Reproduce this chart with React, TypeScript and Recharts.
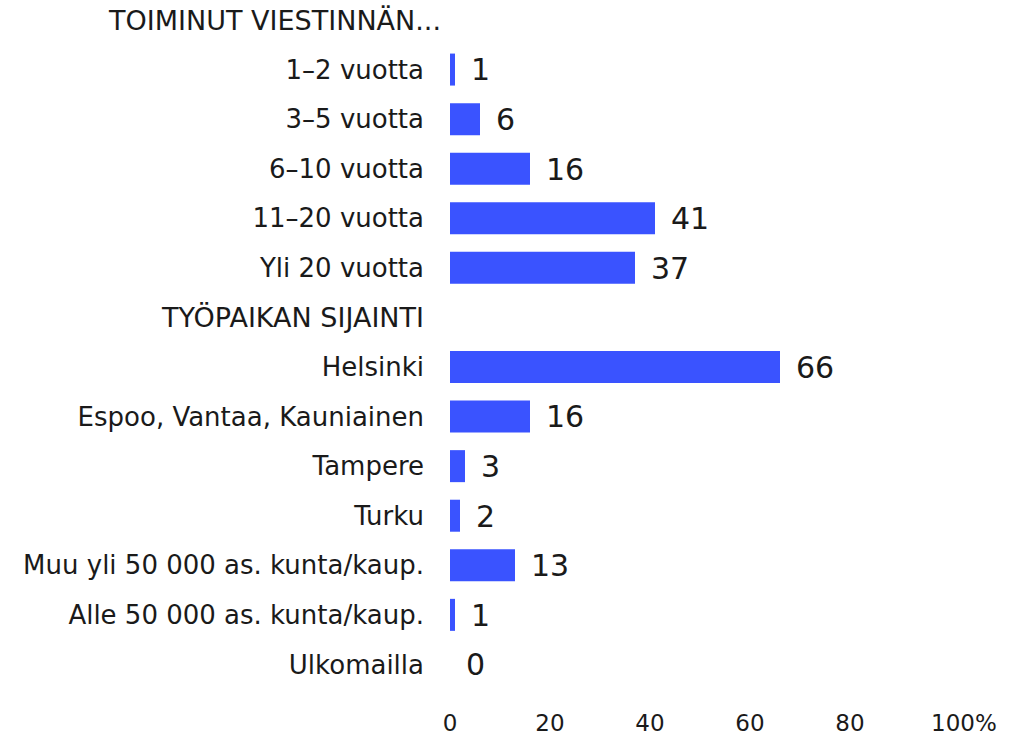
import React from "react";
import { BarChart, Bar, XAxis, YAxis, LabelList } from "recharts";

const categories = [
  "TOIMINUT VIESTINNÄN...",
  "1–2 vuotta",
  "3–5 vuotta",
  "6–10 vuotta",
  "11–20 vuotta",
  "Yli 20 vuotta",
  "TYÖPAIKAN SIJAINTI",
  "Helsinki",
  "Espoo, Vantaa, Kauniainen",
  "Tampere",
  "Turku",
  "Muu yli 50 000 as. kunta/kaup.",
  "Alle 50 000 as. kunta/kaup.",
  "Ulkomailla",
];
const values: (number | null)[] = [null, 1, 6, 16, 41, 37, null, 66, 16, 3, 2, 13, 1, 0];
const headers = ["TOIMINUT VIESTINNÄN...", "TYÖPAIKAN SIJAINTI"];
const xTicks = [0, 20, 40, 60, 80, 100];

const data = categories.map((c, i) => ({ name: c, value: values[i] }));

const FONT = "'DejaVu Sans', sans-serif";
const TEXT = "#1a1a1a";
const BAR = "#3A53FF";

const YTick = (props: any) => {
  const { x, y, payload } = props;
  const label: string = payload.value;
  const isHeader = headers.includes(label);
  const dx = label.endsWith("...") ? 17 : 0;
  return (
    <text
      x={x + dx}
      y={y}
      dy="0.36em"
      textAnchor="end"
      fontFamily={FONT}
      fontSize={isHeader ? 27 : 26}
      fill={TEXT}
    >
      {label}
    </text>
  );
};

const XTick = (props: any) => {
  const { x, y, payload } = props;
  const v = payload.value;
  if (v === 100) {
    return (
      <text x={x - 19} y={y} dy="0.71em" textAnchor="start" fontFamily={FONT} fontSize={23} fill={TEXT}>
        100%
      </text>
    );
  }
  return (
    <text x={x} y={y} dy="0.71em" textAnchor="middle" fontFamily={FONT} fontSize={23} fill={TEXT}>
      {v}
    </text>
  );
};

const ValueLabel = (props: any) => {
  const vb = props.viewBox || {};
  const x = props.x ?? vb.x;
  const y = props.y ?? vb.y;
  const width = props.width ?? vb.width ?? 0;
  const height = props.height ?? vb.height ?? 0;
  const value = props.value;
  if (value === null || value === undefined || x === undefined) return null;
  return (
    <text
      x={Number(x) + Number(width) + 16}
      y={Number(y) + Number(height) / 2}
      dy="0.36em"
      textAnchor="start"
      fontFamily={FONT}
      fontSize={30}
      fill={TEXT}
    >
      {value}
    </text>
  );
};

export default function App() {
  return (
    <div style={{ position: "absolute", left: 0, top: -5, width: 1015, height: 745, fontFamily: FONT }}>
      <BarChart
        width={1015}
        height={745}
        data={data}
        layout="vertical"
        margin={{ top: 0, right: 65, bottom: 0, left: 0 }}
        barCategoryGap={0}
      >
        <XAxis
          type="number"
          domain={[0, 100]}
          ticks={xTicks}
          axisLine={false}
          tickLine={false}
          tickSize={0}
          tickMargin={26}
          height={51}
          tick={<XTick />}
          interval={0}
        />
        <YAxis
          type="category"
          dataKey="name"
          width={450}
          axisLine={false}
          tickLine={false}
          tickSize={0}
          tickMargin={26}
          tick={<YTick />}
          interval={0}
        />
        <Bar
          dataKey="value"
          fill={BAR}
          barSize={32}
          minPointSize={(v: any) => (v === 0 ? 0.001 : 0)}
          isAnimationActive={false}
        >
          <LabelList dataKey="value" content={<ValueLabel />} />
        </Bar>
      </BarChart>
    </div>
  );
}
